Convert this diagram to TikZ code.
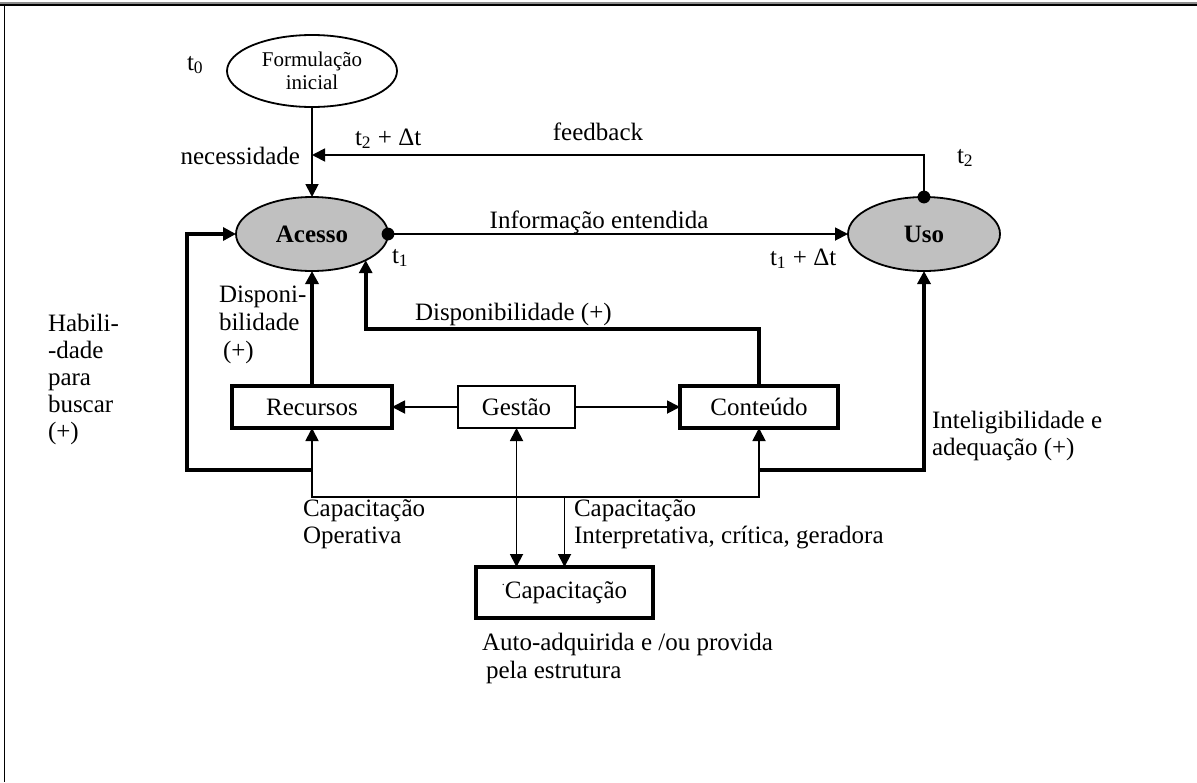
\documentclass[tikz,border=0pt]{standalone}
\usepackage{fontspec}
\setmainfont{Liberation Serif}
\usetikzlibrary{arrows.meta,shapes.geometric,calc}
\definecolor{ellgray}{RGB}{192,192,192}
\begin{document}
\begin{tikzpicture}[x=0.5pt,y=-0.5pt,
  every node/.style={inner sep=0pt, outer sep=0pt},
  txt/.style={font=\fontsize{12.5}{13.5}\selectfont},
  lbl/.style={txt, align=left, anchor=north west},
  thinln/.style={line width=0.9pt},
  thickln/.style={line width=2pt},
  tip/.style={-{Triangle[length=6.5pt,width=6.5pt]}},
  tiptwo/.style={{Triangle[length=6.5pt,width=6.5pt]}-{Triangle[length=6.5pt,width=6.5pt]}},
  grayell/.style={ellipse, draw, line width=0.9pt, fill=ellgray, minimum width=76pt, minimum height=37pt, font=\fontsize{12.5}{13}\selectfont\bfseries},
  thickbox/.style={draw, line width=1.8pt, minimum height=21pt, txt},
  thinbox/.style={draw, line width=0.9pt, minimum height=21pt, txt}
]
\useasboundingbox (0,0) rectangle (1197,782);
% frame
\draw[line width=1.2pt, black!45] (0,3) -- (1197,3);
\draw[line width=1.3pt] (0,5) -- (1197,5);
\draw[line width=0.9pt] (4.5,4) -- (4.5,782);

% nodes
\node[ellipse, draw, line width=0.9pt, minimum width=85pt, minimum height=36pt,
      font=\fontsize{10.5}{11.5}\selectfont, align=center] (form) at (312,71) {Formulação\\inicial};
\node[grayell] (acesso) at (312,234) {Acesso};
\node[grayell] (uso) at (924,234) {Uso};
\node[thickbox, minimum width=80pt] (rec) at (312,407) {Recursos};
\node[thinbox, minimum width=58.5pt] (gest) at (516.5,407) {Gestão};
\node[thickbox, minimum width=79pt] (cont) at (759,407) {Conteúdo};
\node[thickbox, minimum width=88.5pt, minimum height=25.5pt] (cap) at (564.5,592.5)
  {\raisebox{1.1ex}{\fontsize{6}{6}\selectfont.}Capacitação};

% helper coordinates
\coordinate (fy) at (0,155);
\coordinate (dy) at (0,329);
\coordinate (ly) at (0,470);
\coordinate (hy) at (0,497);
\coordinate (lx) at (187,0);
\coordinate (a2) at (acesso.-26.6);

% connectors
\draw[thinln,tip] (form.south) -- (form.south |- acesso.north);
\draw[thinln,tip] (uso.north) |- (form.south |- fy);
\fill (uso.north) circle (3.2pt);
\draw[thinln,tip] (acesso.east) -- (uso.west);
\fill (acesso.east) circle (3.2pt);

\draw[thickln,tip] (rec.north) -- (rec.north |- acesso.south);
\draw[thickln,tip] (cont.north) |- (a2 |- dy) -- (a2);

\draw[thinln,tip] (gest.west) -- (rec.east);
\draw[thinln,tip] (gest.east) -- (cont.west);

\draw[thickln,tip] (rec.south |- ly) -| (lx |- acesso.west) -- (acesso.west);
\draw[thickln,tip] (cont.south |- ly) -| (uso.south);

\draw[thinln,tiptwo] (rec.south) |- (cont.south |- hy) -- (cont.south);
\draw[thinln,tiptwo] (gest.south) -- (gest.south |- cap.north);
\draw[thinln,tip] (cap.north |- hy) -- (cap.north);

% labels
\node[txt, anchor=base west] (t0) at (187,70) {t\textsubscript{0}};
\node[txt, anchor=base east] (nec) at (300,164) {necessidade};
\node[txt, anchor=base west] (t2dt) at (355,145) {t\textsubscript{2} + Δt};
\node[txt, anchor=base] (fb) at (598,140) {feedback};
\node[txt, anchor=base west] (t2) at (957,163) {t\textsubscript{2}};
\node[txt, anchor=base] (info) at (599,228) {Informação entendida};
\node[txt, anchor=base west] (t1) at (392,263) {t\textsubscript{1}};
\node[txt, anchor=base west] (t1dt) at (770,265) {t\textsubscript{1} + Δt};
\node[txt, anchor=base west] (disp) at (415,320) {Disponibilidade (+)};
\node[lbl, font=\fontsize{12.5}{14}\selectfont] (disp2) at (219,286) {Disponi-\\bilidade\\\hspace*{2pt}(+)};
\node[lbl] (hab) at (48,314) {Habili-\\-dade\\para\\buscar\\(+)};
\node[lbl] (capop) at (303,500) {Capacitação\\Operativa};
\node[lbl] (capint) at (574,500) {Capacitação\\Interpretativa, crítica, geradora};
\node[lbl, font=\fontsize{12.5}{14}\selectfont] (auto) at (482,633) {Auto-adquirida e /ou provida\\\hspace*{2pt}pela estrutura};
\node[lbl] (intel) at (932,411) {Inteligibilidade e\\adequação (+)};
\end{tikzpicture}
\end{document}
